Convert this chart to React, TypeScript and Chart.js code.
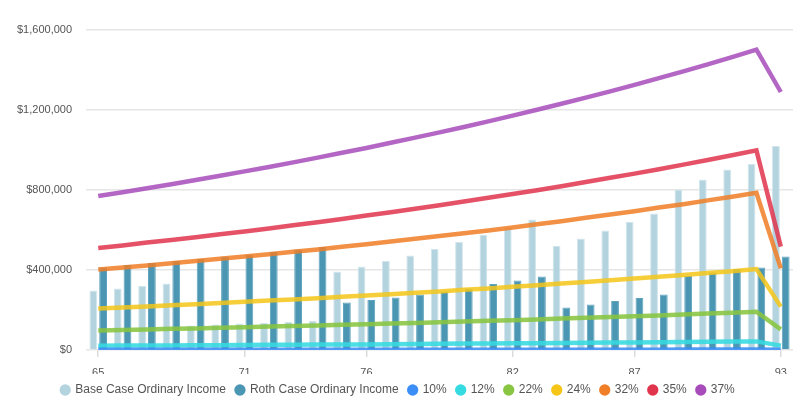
import React, { useEffect, useRef } from "react";
import { Chart, registerables } from "chart.js";

Chart.register(...registerables);

const ages = [
  "65", "66", "67", "68", "69", "70", "71", "72", "73", "74", "75", "76", "77", "78", "79",
  "80", "81", "82", "83", "84", "85", "86", "87", "88", "89", "90", "91", "92", "93",
];
const xTickLabels = ["65", "71", "76", "82", "87", "93"];
const yTicks = [0, 400000, 800000, 1200000, 1600000];

const baseCase = [
  297000, 308000, 320000, 332000, 123000, 128000, 132000, 135000, 140000, 145000, 392000, 417000,
  445000, 473000, 505000, 540000, 575000, 612000, 653000, 520000, 558000, 598000, 640000, 682000,
  803000, 852000, 903000, 930000, 1020000,
];
const rothCase = [
  413000, 425000, 435000, 445000, 455000, 467000, 478000, 490000, 502000, 515000, 237000, 250000,
  263000, 278000, 293000, 308000, 330000, 348000, 368000, 213000, 228000, 245000, 260000, 278000,
  370000, 388000, 405000, 413000, 467000,
];
const b10 = [
  1000, 1000, 1000, 1100, 1100, 1100, 1200, 1200, 1200, 1300, 1300, 1300, 1400, 1400, 1400,
  1500, 1500, 1600, 1600, 1600, 1700, 1700, 1800, 1800, 1900, 1900, 2000, 2000, 1000,
];
const b12 = [
  21000, 22000, 22000, 23000, 24000, 24000, 25000, 26000, 26000, 27000, 28000, 28000, 29000, 30000,
  31000, 32000, 33000, 34000, 34000, 35000, 36000, 37000, 38000, 39000, 40000, 41000, 42000, 43000,
  22000,
];
const b22 = [
  98000, 100000, 103000, 106000, 108000, 111000, 114000, 117000, 120000, 123000, 126000, 129000,
  132000, 135000, 139000, 142000, 146000, 149000, 153000, 157000, 161000, 165000, 169000, 173000,
  177000, 182000, 186000, 191000, 103000,
];
const b24 = [
  208000, 213000, 218000, 224000, 229000, 235000, 241000, 247000, 253000, 259000, 266000, 272000,
  279000, 286000, 293000, 301000, 308000, 316000, 324000, 332000, 340000, 349000, 357000, 366000,
  375000, 385000, 394000, 405000, 217000,
];
const b32 = [
  403000, 413000, 423000, 434000, 445000, 456000, 467000, 479000, 491000, 503000, 516000, 529000,
  542000, 556000, 570000, 584000, 598000, 613000, 629000, 644000, 661000, 677000, 694000, 712000,
  729000, 748000, 766000, 786000, 408000,
];
const b35 = [
  510000, 523000, 537000, 550000, 564000, 579000, 593000, 608000, 624000, 639000, 655000, 672000,
  689000, 706000, 724000, 742000, 761000, 780000, 799000, 819000, 840000, 861000, 882000, 904000,
  927000, 950000, 974000, 998000, 517000,
];
const b37 = [
  770000, 789000, 809000, 829000, 850000, 871000, 893000, 915000, 938000, 962000, 986000, 1010000,
  1036000, 1062000, 1088000, 1115000, 1143000, 1172000, 1201000, 1231000, 1262000, 1293000,
  1326000, 1359000, 1393000, 1428000, 1464000, 1502000, 1290000,
];

const bracketNames = ["10%", "12%", "22%", "24%", "32%", "35%", "37%"];
const bracketSeries = [b10, b12, b22, b24, b32, b35, b37];
const bracketColors = ["#3a8ef6", "#34dbe0", "#88c540", "#f5c518", "#f07e26", "#e0344c", "#a74bbb"];
const bracketLineColors = [
  "rgba(58,142,246,0.88)",
  "rgba(52,219,224,0.88)",
  "rgba(136,197,64,0.88)",
  "rgba(245,197,24,0.85)",
  "rgba(240,126,38,0.85)",
  "rgba(224,52,76,0.85)",
  "rgba(167,75,187,0.85)",
];

export default function App() {
  const ref = useRef<HTMLCanvasElement | null>(null);

  useEffect(() => {
    if (!ref.current) return;
    Chart.defaults.font.family = 'Arial, "Liberation Sans", sans-serif';
    Chart.defaults.color = "#666";

    const legendFix = {
      id: "legendFix",
      afterInit(chart: any) {
        const lg = chart.legend;
        if (!lg) return;
        const orig = lg.fit;
        lg.fit = function () {
          orig.call(this);
          this.height = 26;
        };
      },
    };

    const datasets: any[] = [
      {
        type: "bar",
        label: "Base Case Ordinary Income",
        data: baseCase,
        backgroundColor: "#b3d3df",
        borderColor: "#d2e5ec",
        borderWidth: 1,
        order: 2,
      },
      {
        type: "bar",
        label: "Roth Case Ordinary Income",
        data: rothCase,
        backgroundColor: "#4a96b3",
        borderColor: "#5fa3bd",
        borderWidth: 1,
        order: 2,
      },
      ...bracketNames.map((name, i) => ({
        type: "line",
        label: name,
        data: bracketSeries[i],
        borderColor: bracketLineColors[i],
        backgroundColor: bracketColors[i],
        borderWidth: 4.5,
        pointRadius: 0,
        pointHoverRadius: 0,
        tension: 0,
        fill: false,
        order: 1,
      })),
    ];

    const chart = new Chart(ref.current, {
      type: "bar",
      data: { labels: ages, datasets },
      plugins: [legendFix],
      options: {
        animation: false,
        responsive: true,
        maintainAspectRatio: false,
        layout: { padding: { left: 3, right: 7, top: 30, bottom: 0 } },
        datasets: {
          bar: { barPercentage: 0.8, categoryPercentage: 0.8 },
        },
        plugins: {
          tooltip: { enabled: false },
          legend: {
            position: "bottom",
            labels: {
              usePointStyle: true,
              pointStyle: "circle",
              boxWidth: 8,
              boxHeight: 8,
              padding: 10,
              color: "#555",
              font: { size: 12 },
              sort: (a: any, b: any) => a.datasetIndex - b.datasetIndex,
              generateLabels: (c: any) =>
                (Chart.defaults.plugins.legend.labels as any)
                  .generateLabels(c)
                  .map((l: any) => ({ ...l, lineWidth: 0, strokeStyle: l.fillStyle })),
            },
          },
        },
        scales: {
          x: {
            offset: true,
            border: { display: false },
            grid: {
              offset: false,
              drawOnChartArea: false,
              tickLength: 7,
              lineWidth: 1.5,
              color: (ctx: any) =>
                xTickLabels.includes(ages[ctx.index]) ? "#dcdcdc" : "rgba(0,0,0,0)",
            },
            ticks: {
              autoSkip: false,
              maxRotation: 0,
              padding: 9,
              color: "#555",
              font: { size: 11 },
              callback: (_v: any, i: number) => (xTickLabels.includes(ages[i]) ? ages[i] : ""),
            },
            afterFit: (s: any) => {
              s.height = 24;
            },
          },
          y: {
            min: 0,
            max: 1600000,
            border: { display: false },
            grid: { color: "#e6e6e6", lineWidth: 1.5, drawTicks: false },
            afterBuildTicks: (s: any) => {
              s.ticks = yTicks.map((v) => ({ value: v }));
            },
            ticks: {
              padding: 14,
              color: "#555",
              font: { size: 11 },
              callback: (v: any) => "$" + Number(v).toLocaleString("en-US"),
            },
          },
        },
      },
    });
    return () => chart.destroy();
  }, []);

  return (
    <div style={{ position: "absolute", left: 0, top: 0, width: 800, height: 400 }}>
      <canvas ref={ref} />
    </div>
  );
}
